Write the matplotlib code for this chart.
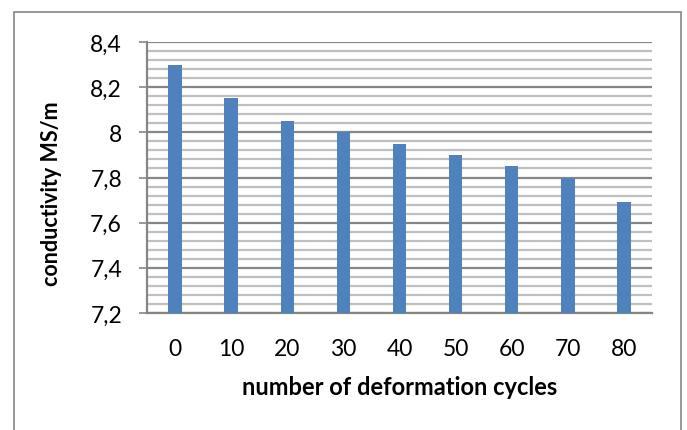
import matplotlib.pyplot as plt
from matplotlib.patches import Rectangle
import numpy as np

cycles = ['0', '10', '20', '30', '40', '50', '60', '70', '80']
conductivity = [8.30, 8.15, 8.05, 8.00, 7.95, 7.90, 7.85, 7.80, 7.69]
y_ticks = [7.2, 7.4, 7.6, 7.8, 8.0, 8.2, 8.4]
y_labels = ['7,2', '7,4', '7,6', '7,8', '8', '8,2', '8,4']

plt.rcParams['font.family'] = ['Lato', 'DejaVu Sans']

fig = plt.figure(figsize=(6.87, 4.31), dpi=100)
ax = fig.add_axes([147 / 687, 1 - 314 / 431, 505 / 687, 271 / 431])

x = np.arange(len(cycles))
ax.bar(x, conductivity, width=0.24, color='#4F81BD', zorder=3)

ax.set_xlim(-0.5, len(cycles) - 0.5)
ax.set_ylim(7.2, 8.4)
ax.set_yticks(y_ticks)
ax.set_yticklabels(y_labels)
ax.set_yticks(np.arange(7.24, 8.4, 0.04), minor=True)
ax.set_xticks(x)
ax.set_xticklabels(cycles)

ax.grid(which='major', axis='y', color='#868686', linewidth=1.6, zorder=0)
ax.grid(which='minor', axis='y', color='#BFBFBF', linewidth=1.6, zorder=0)
ax.tick_params(axis='y', which='major', length=6, width=1.2, color='#868686',
               pad=12, labelsize=16.5)
ax.tick_params(axis='y', which='minor', length=0)
ax.tick_params(axis='x', length=0, pad=18, labelsize=16.5)

for side in ['top', 'right']:
    ax.spines[side].set_visible(False)
for side in ['left', 'bottom']:
    ax.spines[side].set_color('#868686')
    ax.spines[side].set_linewidth(1.6)

ax.set_xlabel('number of deformation cycles', fontsize=17, fontweight='bold',
              va='center')
ax.xaxis.set_label_coords(0.5, -0.273)
ax.set_ylabel('conductivity MS/m', fontsize=15.5, fontweight='bold', va='center')
ax.yaxis.set_label_coords(-0.19, 0.445)

fig.patches.append(Rectangle((14 / 687, -0.1), 667 / 687, 1.1 - 13 / 431,
                             transform=fig.transFigure, fill=False,
                             edgecolor='#868686', linewidth=1.2))

fig.savefig('out.png', dpi=100)
